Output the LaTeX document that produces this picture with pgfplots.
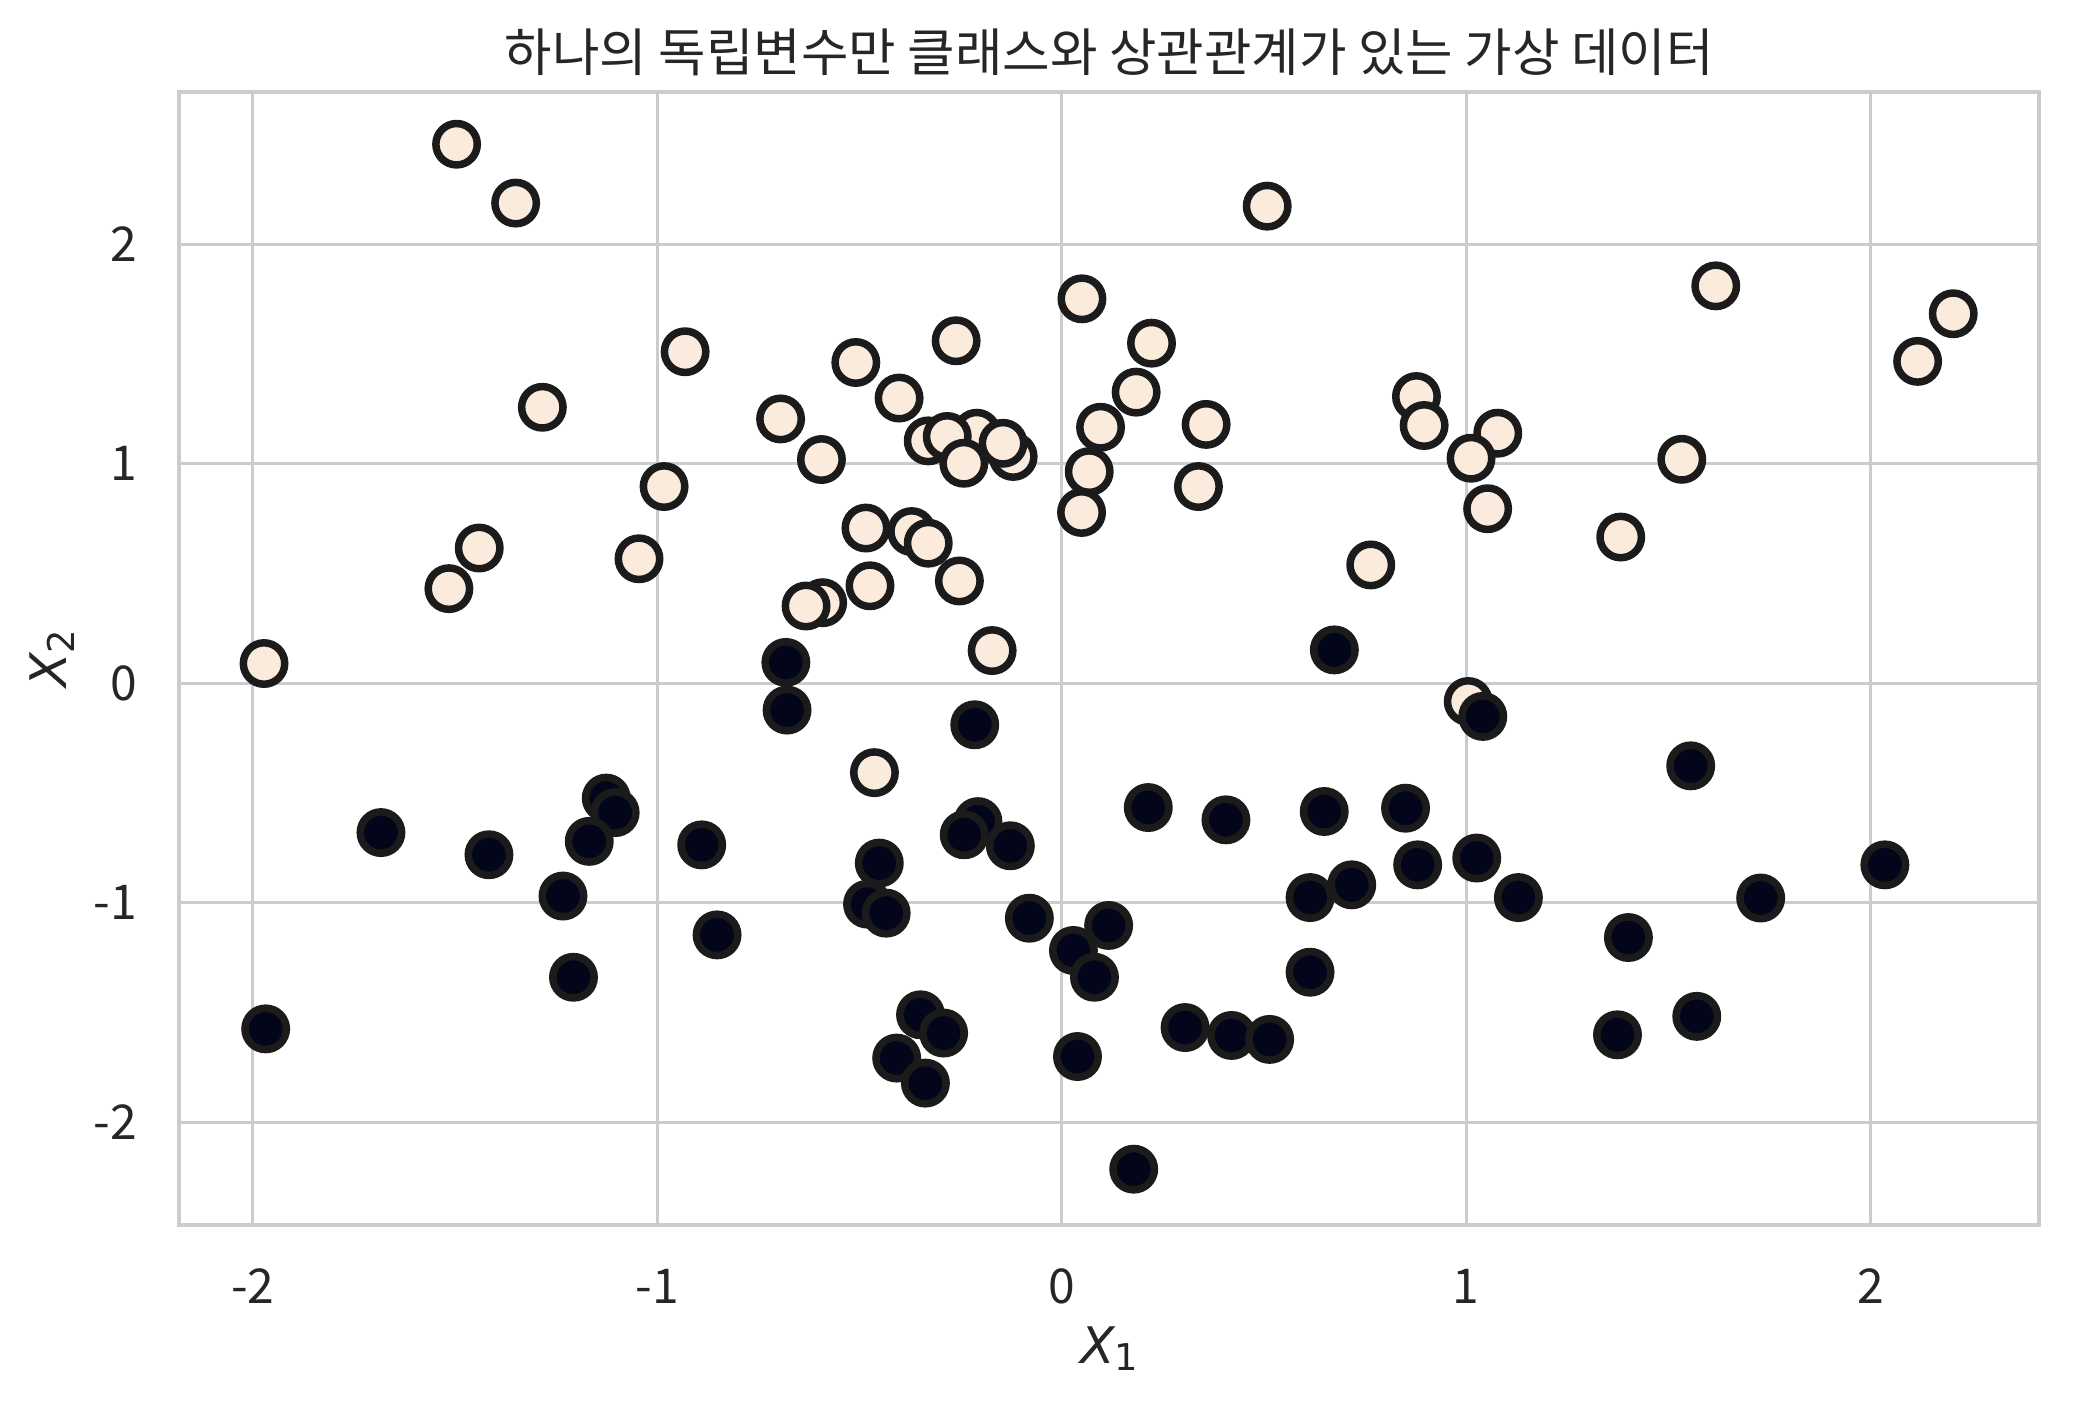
\documentclass[border=0pt]{standalone}
\usepackage{pgfplots}
\pgfplotsset{compat=1.18}
\usepackage{fontspec}
\setmainfont{Noto Sans CJK KR}
\newfontfamily\dejavu{DejaVu Sans}
\definecolor{gridc}{HTML}{CCCCCC}
\definecolor{txt}{HTML}{262626}
\definecolor{edgec}{HTML}{1B1B1B}
\definecolor{lightc}{HTML}{FAEBDD}
\definecolor{darkc}{HTML}{03051A}
\begin{document}
\begin{tikzpicture}
\begin{axis}[
  at={(0,0)}, anchor=south west,
  scale only axis, width=620pt, height=377.73pt,
  xmin=-2.1815, xmax=2.4168, ymin=-2.469, ymax=2.692,
  xtick={-2,-1,0,1,2}, xticklabels={-2,-1,0,1,2},
  ytick={-2,-1,0,1,2}, yticklabels={-2,-1,0,1,2},
  grid=major, major grid style={draw=gridc, line width=1.0pt},
  axis line style={draw=gridc, line width=1.33pt},
  major tick length=0pt,
  tick label style={font=\fontsize{16}{19}\selectfont, text=txt, inner sep=0pt},
  xticklabel style={anchor=base, yshift=-26pt},
  yticklabel style={anchor=east, xshift=-14pt},
  title={하나의 독립변수만 클래스와 상관관계가 있는 가상 데이터},
  every axis title/.style={at={(0.5,1)}, anchor=base, yshift=6.9pt, font=\fontsize{17.2}{20}\selectfont, text=txt, inner sep=0pt},
  xlabel={{\fontsize{16.8}{20}\selectfont\dejavu\itshape X}\raisebox{-2.5pt}{\fontsize{12.3}{14}\selectfont\dejavu 1}},
  ylabel={{\fontsize{16.8}{20}\selectfont\dejavu\itshape X}\raisebox{-2.5pt}{\fontsize{12.3}{14}\selectfont\dejavu 2}},
  every axis x label/.style={at={(0.5,0)}, yshift=-45.9pt, anchor=base, text=txt, inner sep=0pt},
  every axis y label/.style={at={(0,0.5)}, xshift=-37.5pt, rotate=90, anchor=base, text=txt, inner sep=0pt},
]
\addplot[only marks, mark=*, mark size=6.9pt, mark options={draw=edgec, fill=lightc, line width=2.5pt}] coordinates {
(-1.496,2.455) (-1.350,2.187) (0.508,2.173) (0.050,1.751) (1.617,1.810)
(2.204,1.683) (2.116,1.466) (-0.931,1.510) (-0.261,1.560) (-0.509,1.461)
(0.222,1.549) (-0.402,1.299) (0.184,1.326) (-1.284,1.257) (-0.695,1.204)
(-0.210,1.139) (-0.330,1.104) (-0.283,1.124) (-0.120,1.033) (-0.145,1.093)
(-0.242,1.002) (-0.594,1.019) (0.096,1.166) (0.357,1.179) (0.877,1.306)
(0.896,1.174) (1.078,1.139) (1.012,1.025) (1.533,1.020) (-0.983,0.896)
(0.068,0.964) (0.338,0.896) (1.053,0.795) (0.049,0.778) (-1.440,0.616)
(-1.515,0.431) (-1.045,0.567) (-0.484,0.707) (-0.371,0.691) (-0.330,0.638)
(0.764,0.539) (1.382,0.666) (-0.253,0.466) (-0.474,0.444) (-0.591,0.367)
(-0.632,0.352) (-0.172,0.149) (-1.972,0.090) (1.005,-0.083) (-0.463,-0.407)
};
\addplot[only marks, mark=*, mark size=6.9pt, mark options={draw=edgec, fill=darkc, line width=2.5pt}] coordinates {
(-0.682,0.095) (0.674,0.152) (-0.679,-0.122) (1.041,-0.151) (-0.215,-0.189)
(1.555,-0.376) (-1.683,-0.680) (-1.126,-0.523) (-1.104,-0.589) (-1.416,-0.781)
(-1.168,-0.720) (-0.890,-0.736) (-0.207,-0.630) (-0.241,-0.690) (-0.127,-0.740)
(0.214,-0.566) (0.406,-0.622) (0.649,-0.584) (0.850,-0.569) (-0.451,-0.819)
(2.035,-0.827) (0.880,-0.827) (1.026,-0.796) (0.717,-0.918) (0.614,-0.976)
(-1.233,-0.969) (1.129,-0.976) (1.728,-0.978) (-0.480,-1.006) (-0.434,-1.047)
(-0.080,-1.070) (0.116,-1.103) (-0.852,-1.146) (0.029,-1.217) (0.081,-1.339)
(-1.207,-1.339) (1.401,-1.158) (0.614,-1.316) (-1.968,-1.574) (-0.349,-1.510)
(-0.292,-1.593) (0.305,-1.568) (0.420,-1.604) (0.514,-1.622) (1.374,-1.601)
(1.570,-1.517) (-0.408,-1.707) (-0.337,-1.821) (0.039,-1.700) (0.178,-2.213)
};
\end{axis}
\pgfresetboundingbox
\path[use as bounding box] (-59.77pt,-59.17pt) rectangle (631.57pt,408.47pt);
\end{tikzpicture}
\end{document}
